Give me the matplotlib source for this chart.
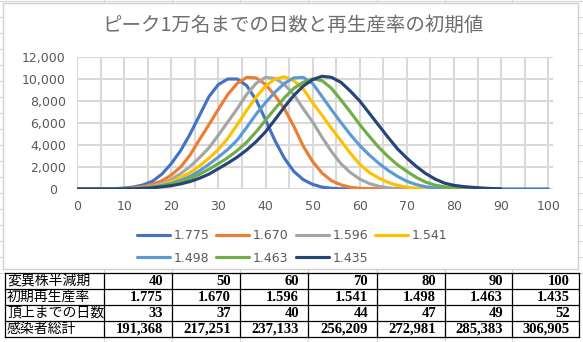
import numpy as np
import matplotlib
matplotlib.use('Agg')
import matplotlib.pyplot as plt
from matplotlib.patches import Rectangle
from matplotlib.ticker import FuncFormatter

W, H = 583, 342
JP = ['Noto Sans CJK JP', 'DejaVu Sans']
GRAY_TXT = '#595959'

# ============================================================================
# Data (read off the chart / table)
# ============================================================================
days = np.arange(0, 101, 2)

half_life = [40, 50, 60, 70, 80, 90, 100]
r0 = [1.775, 1.670, 1.596, 1.541, 1.498, 1.463, 1.435]
days_to_peak = [33, 37, 40, 44, 47, 49, 52]
total_infected = [191368, 217251, 237133, 256209, 272981, 285383, 306905]

# daily new cases, every 2 days (blue runs to day 100, the others to day 90)
cases_1775 = [0, 0, 0, 10, 30, 80, 180, 370, 700, 1350, 2300, 3500, 5000, 6700,
              8400, 9500, 10000, 10000, 9400, 8100, 6300, 4400, 2800, 1600, 850,
              420, 170, 60, 20, 5, 0, 0, 0, 0, 0, 0, 0, 0, 0, 0, 0, 0, 0, 0, 0,
              0, 0, 0, 0, 0, 0]
cases_1670 = [0, 0, 0, 5, 15, 40, 100, 220, 420, 750, 1270, 2000, 3100, 4500,
              5850, 7250, 8600, 9600, 10150, 10100, 9500, 8500, 7300, 5700, 3900,
              2500, 1450, 750, 380, 150, 60, 20, 5, 0, 0, 0, 0, 0, 0, 0, 0, 0, 0,
              0, 0, 0]
cases_1596 = [0, 0, 0, 0, 10, 25, 60, 140, 270, 500, 880, 1400, 2050, 2850,
              3750, 4900, 6100, 7300, 8600, 9600, 10150, 10050, 9500, 8600, 7300,
              6100, 4700, 3400, 2300, 1500, 900, 500, 250, 110, 40, 10, 0, 0, 0,
              0, 0, 0, 0, 0, 0, 0]
cases_1541 = [0, 0, 0, 0, 5, 20, 45, 110, 210, 400, 670, 1050, 1500, 2100,
              2800, 3600, 4600, 5850, 7150, 8350, 9350, 10000, 10200, 9850, 9100,
              7850, 6700, 5500, 4400, 3250, 2250, 1500, 1000, 600, 330, 160, 70,
              25, 5, 0, 0, 0, 0, 0, 0, 0]
cases_1498 = [0, 0, 0, 0, 5, 15, 35, 80, 170, 320, 500, 780, 1150, 1650, 2250,
              2900, 3600, 4450, 5600, 6800, 7850, 8800, 9600, 10100, 10150, 9600,
              8400, 7200, 6050, 4950, 3950, 3100, 2350, 1700, 1150, 700, 400, 200,
              90, 35, 10, 0, 0, 0, 0, 0]
cases_1463 = [0, 0, 0, 0, 5, 10, 30, 65, 130, 250, 420, 650, 950, 1330, 1800,
              2300, 2850, 3500, 4250, 5200, 6250, 7300, 8300, 9150, 9700, 10000,
              9850, 9150, 8100, 7000, 5850, 4800, 3800, 2950, 2200, 1600, 1050,
              620, 350, 200, 130, 80, 40, 15, 5, 0]
cases_1435 = [0, 0, 0, 0, 0, 10, 20, 50, 110, 200, 300, 460, 680, 980, 1350,
              1850, 2350, 2900, 3550, 4300, 5200, 6300, 7450, 8500, 9350, 9950,
              10250, 10150, 9700, 8900, 8000, 6900, 5800, 4700, 3650, 2800, 2050,
              1400, 900, 530, 330, 220, 150, 90, 40, 10]

series = [cases_1775, cases_1670, cases_1596, cases_1541,
          cases_1498, cases_1463, cases_1435]
colors = ['#4472C4', '#ED7D31', '#A5A5A5', '#FFC000',
          '#5B9BD5', '#70AD47', '#264478']

# ============================================================================
# Figure + sheet background
# ============================================================================
fig = plt.figure(figsize=(W / 100, H / 100), dpi=100)
bg = fig.add_axes([0, 0, 1, 1], zorder=0)
bg.set_xlim(0, W)
bg.set_ylim(H, 0)
bg.axis('off')

col_x = [5, 104, 172, 240, 308, 377, 445, 512, 579]
row_y = [273, 289, 305, 321, 337]

# faint spreadsheet cell lines
for x in col_x[1:-1]:
    bg.plot([x, x], [0, H], color='#d6d6d6', lw=0.8)
for y in range(row_y[0], 0, -16):
    bg.plot([0, W], [y, y], color='#d6d6d6', lw=0.8)

# chart box
bg.add_patch(Rectangle((3, 3), 575, 266, facecolor='white',
                       edgecolor='#d0d0d0', lw=1.0, zorder=2))

# ============================================================================
# Line chart
# ============================================================================
ax = fig.add_axes([77 / W, 1 - 189 / H, (553 - 77) / W, (189 - 57) / H], zorder=1)
ax.patch.set_alpha(0)

lines = []
for vals, c in zip(series, colors):
    ln, = ax.plot(days[:len(vals)], vals, color=c, lw=2.25,
                  solid_capstyle='round', solid_joinstyle='round')
    lines.append(ln)

ax.set_xlim(0, 101)
ax.set_ylim(0, 12000)
ax.set_xticks(range(0, 101, 10))
ax.set_xticks(range(5, 100, 10), minor=True)
ax.set_yticks(range(0, 12001, 2000))
ax.yaxis.set_major_formatter(FuncFormatter(lambda v, p: f'{int(v):,}' if v else '0  '))
ax.grid(which='both', color='#d9d9d9', lw=1.5)
ax.set_axisbelow(True)
for s in ax.spines.values():
    s.set_visible(False)
ax.tick_params(which='both', length=0, labelsize=9, labelcolor=GRAY_TXT)
ax.tick_params(axis='y', pad=8)
ax.tick_params(axis='x', pad=8)

fig.text(293 / W, 1 - 25 / H, 'ピーク1万名までの日数と再生産率の初期値',
         ha='center', va='center', fontsize=14, color='#6e6e6e', family=JP)

# legend: row-major order over 4 columns
order = [0, 4, 1, 5, 2, 6, 3]
labels = [f'{v:.3f}' for v in r0]
leg = ax.legend([lines[i] for i in order], [labels[i] for i in order],
                ncol=4, loc='center', bbox_to_anchor=(292 / W, 1 - 247 / H),
                bbox_transform=fig.transFigure, frameon=False, fontsize=9,
                handlelength=2.64, handletextpad=0.3, columnspacing=0.55,
                labelspacing=0.75, borderpad=0)
for t in leg.get_texts():
    t.set_color(GRAY_TXT)

# ============================================================================
# Table below the chart
# ============================================================================
for y in row_y:
    bg.plot([col_x[0], col_x[-1]], [y, y], color='black', lw=0.9, zorder=3)
for x in col_x:
    bg.plot([x, x], [row_y[0], row_y[-1]], color='black', lw=0.9, zorder=3)

rows = [
    ('変異株半減期', [str(v) for v in half_life]),
    ('初期再生産率', [f'{v:.3f}' for v in r0]),
    ('頂上までの日数', [str(v) for v in days_to_peak]),
    ('感染者総計', [f'{v:,}' for v in total_infected]),
]
for i, (name, cells) in enumerate(rows):
    yc = (row_y[i] + row_y[i + 1]) / 2
    bg.text(col_x[0] + 2, yc, name, ha='left', va='center', fontsize=10,
            family=JP, color='black', zorder=4)
    for j, s in enumerate(cells):
        bg.text(col_x[j + 2] - 9, yc + 0.5, s, ha='right', va='center',
                fontsize=10.5, family='Liberation Serif', weight='bold',
                color='black', zorder=4)

fig.savefig('out.png', dpi=100)
plt.close(fig)
